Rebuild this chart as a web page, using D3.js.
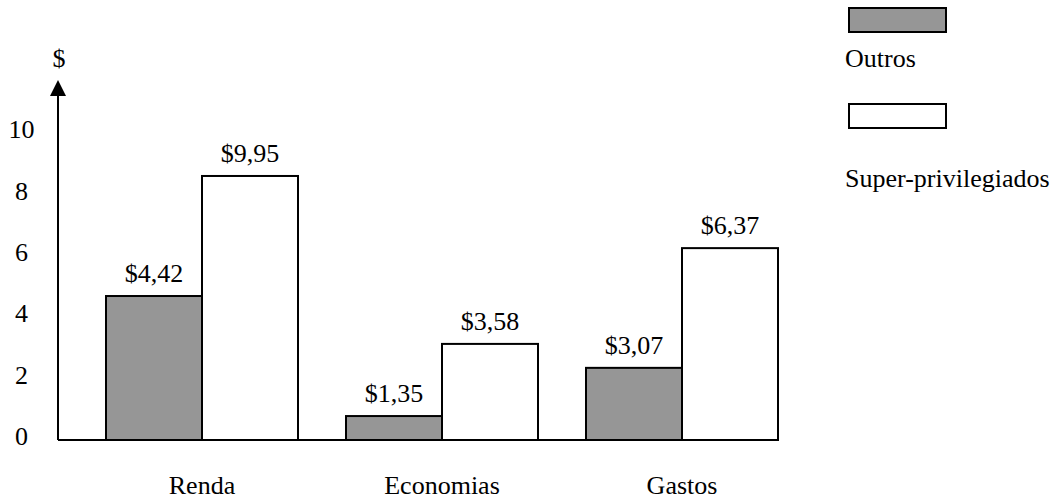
<!DOCTYPE html>
<html>
<head>
<meta charset="utf-8">
<script src="https://cdn.jsdelivr.net/npm/d3@7"></script>
<style>
  body { margin: 0; background: #fff; }
</style>
</head>
<body>
<div id="chart"></div>
<script>
var width = 1058,
    height = 501;

var categories = ['Renda', 'Economias', 'Gastos'];
var seriesNames = ['Outros', 'Super-privilegiados'];
var seriesColors = ['#969696', '#ffffff'];

// bar heights as drawn against the axis
var outros = [4.69, 0.78, 2.35];
var superPriv = [8.6, 3.13, 6.25];

// printed labels above the bars
var outrosLabels = ['$4,42', '$1,35', '$3,07'];
var superLabels = ['$9,95', '$3,58', '$6,37'];

var yTicks = [0, 2, 4, 6, 8, 10];

var data = categories.map(function(c, i) {
    return {
        cat: c,
        vals: [
            { s: 0, v: outros[i], label: outrosLabels[i] },
            { s: 1, v: superPriv[i], label: superLabels[i] }
        ]
    };
});

var svg = d3.select('#chart').append('svg')
    .attr('width', width)
    .attr('height', height)
    .style('font-family', "'Liberation Serif', 'DejaVu Serif', serif")
    .style('font-size', '26px');

var axisX = 58,
    baseY = 440;

var y = d3.scaleLinear()
    .domain([0, 10])
    .range([baseY, baseY - 307]);

var x0 = d3.scaleBand()
    .domain(categories)
    .range([106, 778])
    .paddingInner(0.2)
    .paddingOuter(0);

var x1 = d3.scaleBand()
    .domain([0, 1])
    .range([0, x0.bandwidth()]);

// y tick labels (no tick marks in the original)
svg.selectAll('.ytick')
    .data(yTicks)
    .enter().append('text')
    .attr('class', 'ytick')
    .attr('x', 21.5)
    .attr('y', function(d) { return y(d) - 4; })
    .attr('dy', '0.35em')
    .attr('text-anchor', 'middle')
    .text(function(d) { return d; });

// bars
var groups = svg.selectAll('.grp')
    .data(data)
    .enter().append('g')
    .attr('class', 'grp')
    .attr('transform', function(d) { return 'translate(' + x0(d.cat) + ',0)'; });

groups.selectAll('rect')
    .data(function(d) { return d.vals; })
    .enter().append('rect')
    .attr('x', function(d) { return x1(d.s); })
    .attr('y', function(d) { return y(d.v); })
    .attr('width', x1.bandwidth())
    .attr('height', function(d) { return y(0) - y(d.v); })
    .attr('fill', function(d) { return seriesColors[d.s]; })
    .attr('stroke', '#000')
    .attr('stroke-width', 2);

groups.selectAll('.vlabel')
    .data(function(d) { return d.vals; })
    .enter().append('text')
    .attr('class', 'vlabel')
    .attr('x', function(d) { return x1(d.s) + x1.bandwidth() / 2; })
    .attr('y', function(d) { return y(d.v) - 23; })
    .attr('dy', '0.35em')
    .attr('text-anchor', 'middle')
    .text(function(d) { return d.label; });

// category labels
svg.selectAll('.xlabel')
    .data(categories)
    .enter().append('text')
    .attr('class', 'xlabel')
    .attr('x', function(d) { return x0(d) + x0.bandwidth() / 2; })
    .attr('y', 485)
    .attr('dy', '0.35em')
    .attr('text-anchor', 'middle')
    .text(function(d) { return d; });

// axes
svg.append('line')
    .attr('x1', axisX).attr('x2', 730)
    .attr('y1', baseY).attr('y2', baseY)
    .attr('stroke', '#000')
    .attr('stroke-width', 2);

svg.append('line')
    .attr('x1', axisX).attr('x2', axisX)
    .attr('y1', baseY).attr('y2', 94)
    .attr('stroke', '#000')
    .attr('stroke-width', 2);

svg.append('path')
    .attr('d', 'M' + axisX + ',80 L' + (axisX + 8) + ',96 L' + (axisX - 8) + ',96 Z')
    .attr('fill', '#000');

svg.append('text')
    .attr('x', 59)
    .attr('y', 58)
    .attr('dy', '0.35em')
    .attr('text-anchor', 'middle')
    .text('$');

// legend
var legend = svg.selectAll('.legend')
    .data(seriesNames)
    .enter().append('g')
    .attr('class', 'legend')
    .attr('transform', function(d, i) { return 'translate(849,' + (8 + i * 96) + ')'; });

legend.append('rect')
    .attr('width', 97)
    .attr('height', 24)
    .attr('fill', function(d, i) { return seriesColors[i]; })
    .attr('stroke', '#000')
    .attr('stroke-width', 2);

legend.append('text')
    .attr('x', -4)
    .attr('y', function(d, i) { return i === 0 ? 50 : 74; })
    .attr('dy', '0.35em')
    .text(function(d) { return d; });
</script>
</body>
</html>
